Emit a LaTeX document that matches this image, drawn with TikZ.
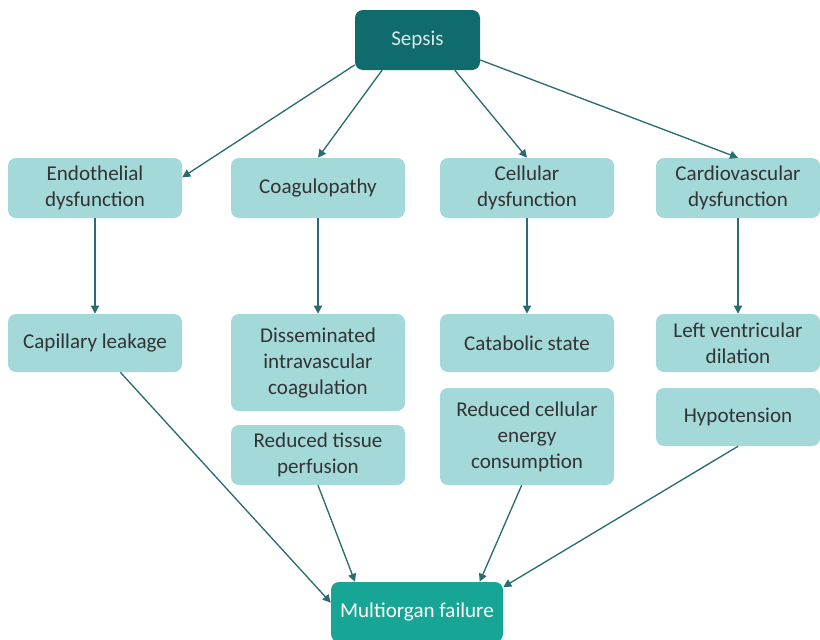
\documentclass[tikz,border=0pt]{standalone}
\usepackage{fontspec}
\setmainfont{Carlito}
\usetikzlibrary{arrows.meta}
\definecolor{dteal}{HTML}{106B6C}
\definecolor{mteal}{HTML}{17A596}
\definecolor{lteal}{HTML}{A3D9D8}
\definecolor{arrc}{HTML}{2A6C70}
\definecolor{txt}{HTML}{333333}
\begin{document}
\begin{tikzpicture}[x=0.75pt,y=-0.75pt,
  lbox/.style={fill=lteal,draw=none,rounded corners=6pt,align=center,text=txt,font=\fontsize{15.8}{19.5}\selectfont,inner sep=2pt},
  arr/.style={draw=arrc,line width=1pt,-{Triangle[width=6pt,length=6pt]}}]
\useasboundingbox (0,0) rectangle (820,639);
\node[fill=dteal,rounded corners=6pt,minimum width=93.75pt,minimum height=45pt,text={rgb,255:red,216;green,232;blue,232},font=\fontsize{15.8}{19.5}\selectfont] (sepsis) at (417.5,40) {Sepsis};
\node[lbox,minimum width=130.5pt,minimum height=45pt] (endo) at (95,188) {Endothelial\\dysfunction};
\node[lbox,minimum width=130.5pt,minimum height=45pt] (coag) at (318,188) {Coagulopathy};
\node[lbox,minimum width=130.5pt,minimum height=45pt] (cell) at (527,188) {Cellular\\dysfunction};
\node[lbox,minimum width=123pt,minimum height=45pt] (card) at (738,188) {Cardiovascular\\dysfunction};
\node[lbox,minimum width=130.5pt,minimum height=43.5pt] (cap) at (95,343) {Capillary leakage};
\node[lbox,minimum width=130.5pt,minimum height=72.75pt] (dic) at (318,362.5) {Disseminated\\intravascular\\coagulation};
\node[lbox,minimum width=130.5pt,minimum height=45pt] (rtp) at (318,455) {Reduced tissue\\perfusion};
\node[lbox,minimum width=130.5pt,minimum height=43.5pt] (cat) at (527,343) {Catabolic state};
\node[lbox,minimum width=130.5pt,minimum height=72.75pt] (rce) at (527,436.5) {Reduced cellular\\energy\\consumption};
\node[lbox,minimum width=123pt,minimum height=43.5pt] (lvd) at (738,343) {Left ventricular\\dilation};
\node[lbox,minimum width=123pt,minimum height=43.5pt] (hyp) at (738,417) {Hypotension};
\node[fill=mteal,rounded corners=6pt,minimum width=129pt,minimum height=45pt,text=white,font=\fontsize{15.8}{19.5}\selectfont] (mof) at (417,612) {Multiorgan failure};
\draw[arr] ([yshift=4pt]sepsis.south west) -- ([yshift=8pt]endo.east);
\draw[arr] ([xshift=-26.6pt]sepsis.south) -- (coag.north);
\draw[arr] ([xshift=28pt]sepsis.south) -- (cell.north);
\draw[arr] ([yshift=-15pt]sepsis.east) -- (card.north);
\draw[arr] (endo.south) -- (cap.north);
\draw[arr] (coag.south) -- (dic.north);
\draw[arr] (cell.south) -- (cat.north);
\draw[arr] (card.south) -- (lvd.north);
\draw[arr] ([xshift=19pt]cap.south) -- ([yshift=7pt]mof.west);
\draw[arr] (rtp.south) -- ([xshift=-46.5pt]mof.north);
\draw[arr] ([xshift=-4pt]rce.south) -- ([xshift=47pt]mof.north);
\draw[arr] (hyp.south) -- ([yshift=-4pt]mof.north east);
\end{tikzpicture}
\end{document}
